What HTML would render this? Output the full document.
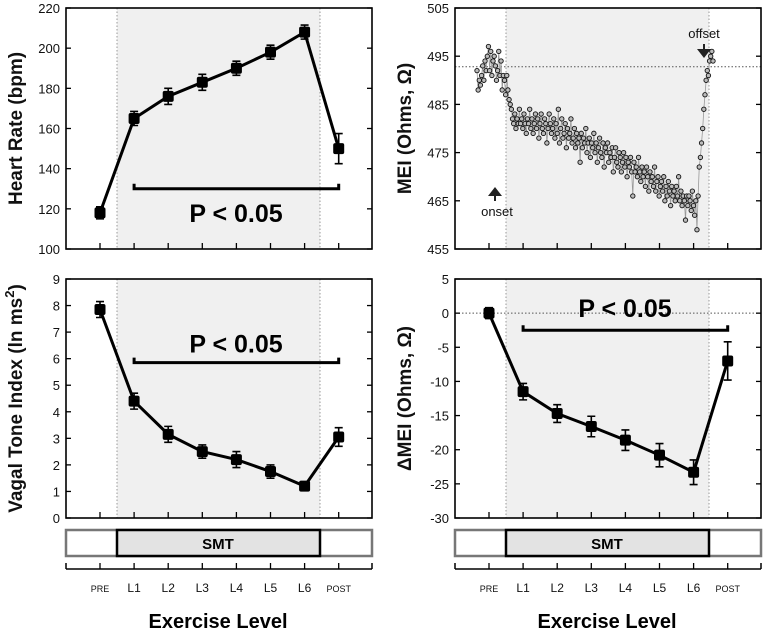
<!DOCTYPE html>
<html><head><meta charset="utf-8"><style>
body{margin:0;background:#fff;}
svg{display:block;font-family:"Liberation Sans",sans-serif;}
</style></head><body>
<svg id="fig" width="767" height="633" viewBox="0 0 767 633" xmlns="http://www.w3.org/2000/svg"></svg>
<script>
const categories=["PRE","L1","L2","L3","L4","L5","L6","POST"];
const hrValues=[118,165,176,183,190,198,208,150];
const hrErrors=[3,3.5,4,4,3.5,3.5,3.5,7.5];
const vagalValues=[7.85,4.4,3.15,2.5,2.2,1.75,1.2,3.05];
const vagalErrors=[0.3,0.3,0.3,0.25,0.3,0.25,0.15,0.35];
const dmeiValues=[0,-11.5,-14.7,-16.6,-18.6,-20.8,-23.3,-7];
const dmeiErrors=[0.8,1.2,1.3,1.5,1.5,1.7,1.8,2.8];
const hrTicks=[100,120,140,160,180,200,220];
const vagalTicks=[0,1,2,3,4,5,6,7,8,9];
const meiTicks=[455,465,475,485,495,505];
const dmeiTicks=[-30,-25,-20,-15,-10,-5,0,5];
const meiBaseline=492.8;
const meiValues=[492,488,490,489,491,493,490,494,492,495,497,492,496,491,494,495,493,490,492,496,491,494,488,491,490,487,491,488,486,485,484,482,481,483,480,482,481,484,481,482,480,483,481,479,482,481,484,480,482,479,481,483,480,482,478,481,483,480,479,482,481,477,480,483,481,479,480,482,478,481,479,484,477,480,482,478,479,481,476,480,478,479,482,477,478,480,476,479,477,478,473,479,476,478,477,480,475,477,478,474,477,476,479,475,477,473,476,478,475,474,477,472,476,475,477,473,475,474,476,471,474,476,473,472,475,474,471,473,475,472,474,470,473,472,474,471,466,473,471,472,470,474,471,469,472,470,471,468,472,470,467,471,469,470,468,472,467,469,470,466,468,469,467,470,465,468,466,469,467,464,468,466,467,465,468,466,470,465,467,464,466,465,461,466,464,466,465,463,467,464,462,465,459,466,472,474,477,480,484,487,490,492,491,494,495,496,494];
const NS="http://www.w3.org/2000/svg";
const svg=document.getElementById('fig');
function mk(tag,attrs,parent){const e=document.createElementNS(NS,tag);for(const k in attrs)e.setAttribute(k,attrs[k]);(parent||svg).appendChild(e);return e;}
function panel(p){
  const g=mk('g',{});
  
  
  const x=i=>p.x0+34+i*34.1;
  const y=v=>p.yb-(v-p.ymin)/(p.ymax-p.ymin)*(p.yb-p.yt);
  const sh=mk('rect',{x:p.x0+51,y:p.yt,width:203,height:p.yb-p.yt,fill:'#f0f0f0'},g);
  
  
  [p.x0+51,p.x0+254].forEach(xx=>mk('line',{x1:xx,x2:xx,y1:p.yt,y2:p.yb,stroke:'#999','stroke-dasharray':'1.5,2','stroke-width':1},g));
  if(p.hline!==undefined) mk('line',{x1:p.x0,x2:p.x0+306,y1:y(p.hline),y2:y(p.hline),stroke:'#555','stroke-dasharray':'1.5,2','stroke-width':1},g);
  mk('rect',{x:p.x0,y:p.yt,width:306,height:p.yb-p.yt,fill:'none',stroke:'#000','stroke-width':1.6},g);
  p.ticks.forEach(t=>{
    const yy=y(t);
    mk('line',{x1:p.x0,x2:p.x0+5,y1:yy,y2:yy,stroke:'#000','stroke-width':1.3},g);
    mk('line',{x1:p.x0+306,x2:p.x0+301,y1:yy,y2:yy,stroke:'#000','stroke-width':1.3},g);
    const tl=mk('text',{x:p.x0-6,y:yy+5,'text-anchor':'end','font-size':13,fill:'#111'},g);
    tl.textContent=t;
    
    
  });
  for(let i=0;i<8;i++) mk('line',{x1:x(i),x2:x(i),y1:p.yb,y2:p.yb-6,stroke:'#000','stroke-width':1.3},g);
  const yt=mk('text',{x:0,y:0,transform:`translate(${p.x0-44},${(p.yt+p.yb)/2}) rotate(-90)`,'text-anchor':'middle','font-size':19,'font-weight':'bold',fill:'#111'},g);
  yt.innerHTML=p.title;
  
  
  if(p.values){
    let d=p.values.map((v,i)=>(i?'L':'M')+x(i)+','+y(v)).join(' ');
    const ln=mk('path',{d:d,fill:'none',stroke:'#000','stroke-width':3},g);
    
    
    p.values.forEach((v,i)=>{
      const e=p.errors[i],xx=x(i);
      mk('path',{d:`M${xx},${y(v+e)}V${y(v-e)}M${xx-4},${y(v+e)}H${xx+4}M${xx-4},${y(v-e)}H${xx+4}`,stroke:'#000','stroke-width':1.6,fill:'none'},g);
      const m=mk('rect',{x:xx-5.5,y:y(v)-5.5,width:11,height:11,rx:2,fill:'#000'},g);
      
      
    });
    const by=y(p.bracket);
    const br=mk('path',{d:`M${x(1)},${by-5}V${by}H${x(7)}V${by-5}`,fill:'none',stroke:'#000','stroke-width':3},g);
    
    
    const pt=mk('text',{x:p.x0+170,y:by+p.pdy,'text-anchor':'middle','font-size':25,'font-weight':'bold',fill:'#000'},g);
    pt.textContent='P < 0.05';
    
    
  }
  return {x,y,g};
}
panel({name:'heart-rate-panel',x0:66,yt:8,yb:249,ymin:100,ymax:220,ticks:hrTicks,title:'Heart Rate (bpm)',values:hrValues,errors:hrErrors,bracket:130,pdy:33});
panel({name:'vagal-tone-panel',x0:66,yt:279,yb:518,ymin:0,ymax:9,ticks:vagalTicks,title:'Vagal Tone Index (ln ms<tspan font-size="13" dy="-8">2</tspan><tspan dy="8">)</tspan>',values:vagalValues,errors:vagalErrors,bracket:5.85,pdy:-10});
panel({name:'delta-mei-panel',x0:455,yt:279,yb:518,ymin:-30,ymax:5,ticks:dmeiTicks,title:'ΔMEI (Ohms, Ω)',values:dmeiValues,errors:dmeiErrors,bracket:-2.5,pdy:-13,hline:0});
const mp=panel({name:'mei-panel',x0:455,yt:8,yb:249,ymin:455,ymax:505,ticks:meiTicks,title:'MEI (Ohms, Ω)',hline:meiBaseline});
(function(){
  const n=meiValues.length,xs=i=>477+i*(713-477)/(n-1);
  const d=meiValues.map((v,i)=>(i?'L':'M')+xs(i)+','+mp.y(v)).join(' ');
  mk('path',{d:d,fill:'none',stroke:'#999','stroke-width':0.8},mp.g);
  meiValues.forEach((v,i)=>{
    const c=mk('circle',{cx:xs(i),cy:mp.y(v),r:2.2,fill:'#bbb',stroke:'#111','stroke-width':0.9},mp.g);
    
    
  });
  mk('path',{d:'M494,196 l-6,0 l7,-9 l7,9 l-6,0 v5 h-2z',fill:'#222'},mp.g);
  mk('path',{d:'M703,49 l-6,0 l7,9 l7,-9 l-6,0 v-5 h-2z',fill:'#222'},mp.g);
  const on=mk('text',{x:497,y:216,'text-anchor':'middle','font-size':13,fill:'#111'},mp.g);on.textContent='onset';
  
  
  const of=mk('text',{x:704,y:38,'text-anchor':'middle','font-size':13,fill:'#111'},mp.g);of.textContent='offset';
  
  
})();
[66,455].forEach((x0,k)=>{
  const g=mk('g',{});
  
  
  mk('rect',{x:x0,y:530,width:306,height:26,fill:'#fff',stroke:'#777','stroke-width':2.5},g);
  const b=mk('rect',{x:x0+51,y:530,width:203,height:26,fill:'#e3e3e3',stroke:'#000','stroke-width':2.5},g);
  
  
  const t=mk('text',{x:x0+152,y:549,'text-anchor':'middle','font-size':15,'font-weight':'bold'},g);t.textContent='SMT';
  mk('line',{x1:x0,x2:x0+306,y1:569,y2:569,stroke:'#000','stroke-width':1.5},g);
  mk('line',{x1:x0,x2:x0,y1:563,y2:569,stroke:'#000','stroke-width':1.5},g);
  mk('line',{x1:x0+306,x2:x0+306,y1:563,y2:569,stroke:'#000','stroke-width':1.5},g);
  categories.forEach((c,i)=>{
    const xx=x0+34+i*34.1;
    mk('line',{x1:xx,x2:xx,y1:563,y2:569,stroke:'#000','stroke-width':1.3},g);
    const small=(c==='PRE'||c==='POST');
    const tl=mk('text',{x:xx,y:592,'text-anchor':'middle','font-size':small?9:12,fill:'#111'},g);
    tl.textContent=c;
    
    
  });
  const xt=mk('text',{x:x0+152,y:628,'text-anchor':'middle','font-size':20,'font-weight':'bold'},g);
  xt.textContent='Exercise Level';
  
  
});
</script>
</body></html>
